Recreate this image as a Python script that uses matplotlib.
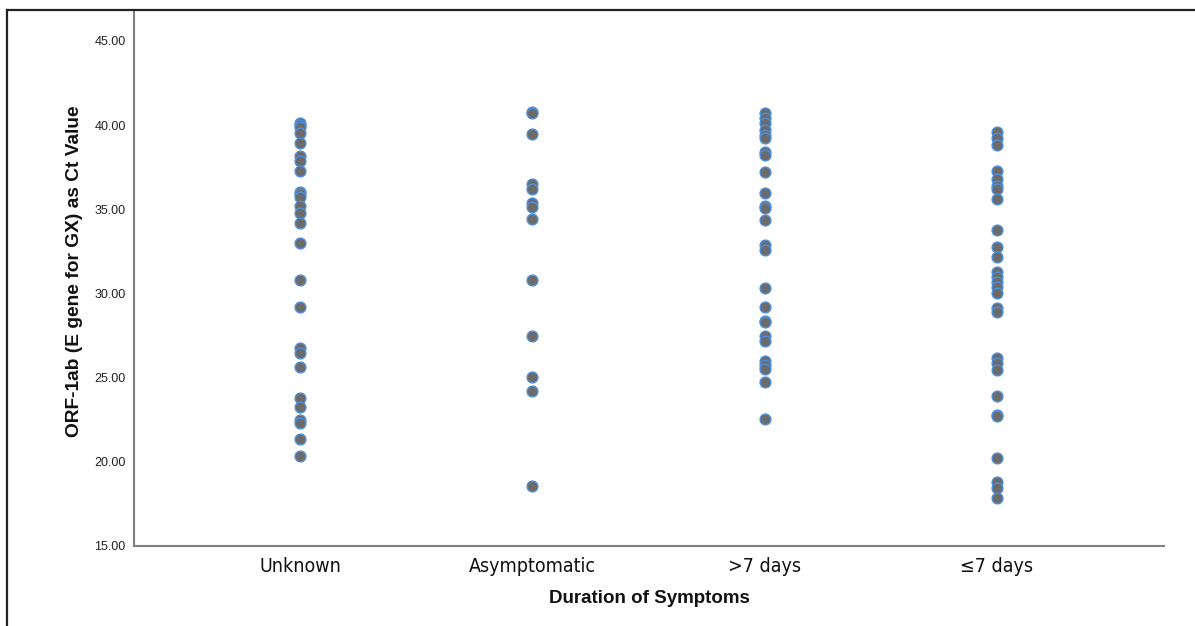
import matplotlib.pyplot as plt
from matplotlib.lines import Line2D

categories = ["Unknown", "Asymptomatic", ">7 days", "\u22647 days"]

unknown = [40.15, 40.0, 39.87, 39.55, 38.96, 38.17, 37.85, 37.28, 36.03, 35.9,
           35.75, 35.20, 34.76, 34.17, 32.98, 30.80, 29.18, 26.74, 26.44, 25.63,
           23.81, 23.23, 22.48, 22.3, 21.37, 20.34]
asymptomatic = [40.80, 40.70, 39.47, 36.49, 36.22, 35.36, 35.12, 34.42, 30.80,
                27.49, 25.05, 24.22, 18.56]
over7 = [40.70, 40.41, 40.11, 39.71, 39.41, 39.22, 38.42, 38.23, 37.23, 35.99,
         35.21, 35.1, 34.36, 32.88, 32.58, 30.34, 29.18, 28.38, 28.3, 27.47,
         27.19, 26.00, 25.75, 25.49, 24.74, 22.52]
upto7 = [39.61, 39.22, 38.82, 37.29, 36.80, 36.38, 36.19, 35.59, 33.77, 32.74,
         32.18, 31.29, 31.00, 30.70, 30.40, 30.04, 29.12, 28.92, 26.15, 25.85,
         25.43, 23.92, 22.80, 22.7, 20.20, 18.81, 18.42, 17.83]

groups = [unknown, asymptomatic, over7, upto7]
yticks = [15, 20, 25, 30, 35, 40, 45]

fig = plt.figure(figsize=(11.95, 6.26), dpi=100)
ax = fig.add_axes([0.1121, 0.1278, 0.974 - 0.1121, 0.984 - 0.1278])

for i, vals in enumerate(groups):
    ax.scatter([i] * len(vals), vals, s=60, color="#6b6b6b",
               edgecolors="#4d8ed8", linewidths=1.0, zorder=3)

ax.set_xlim(-0.715, 3.719)
ax.set_ylim(15, 46.84)
ax.set_xticks(range(len(categories)))
ax.set_xticklabels(categories, fontsize=14, family="DejaVu Sans",
                   fontstretch="condensed", color="#111111")
ax.set_yticks(yticks)
ax.set_yticklabels(["%.2f" % v for v in yticks], fontsize=9,
                   family="Liberation Sans", color="#222222")
ax.tick_params(axis="both", length=0)
ax.tick_params(axis="y", pad=6)
ax.tick_params(axis="x", pad=8)

for side in ["top", "right"]:
    ax.spines[side].set_visible(False)
for side in ["left", "bottom"]:
    ax.spines[side].set_color("#808080")
    ax.spines[side].set_linewidth(1.5)

ax.set_xlabel("Duration of Symptoms", fontsize=13.5, fontweight="bold",
              family="Liberation Sans", labelpad=10, color="#111111")
ax.set_ylabel("ORF-1ab (E gene for GX) as Ct Value", fontsize=13.8,
              fontweight="bold", family="Liberation Sans", color="#111111")
ax.yaxis.set_label_coords(-0.0495, 0.513)

# outer frame lines (top and left)
fig.add_artist(Line2D([7 / 1195, 1], [1 - 10 / 626, 1 - 10 / 626],
                      color="#222222", linewidth=1.6))
fig.add_artist(Line2D([7 / 1195, 7 / 1195], [0, 1 - 10 / 626],
                      color="#222222", linewidth=1.6))

fig.savefig("out.png", dpi=100)
